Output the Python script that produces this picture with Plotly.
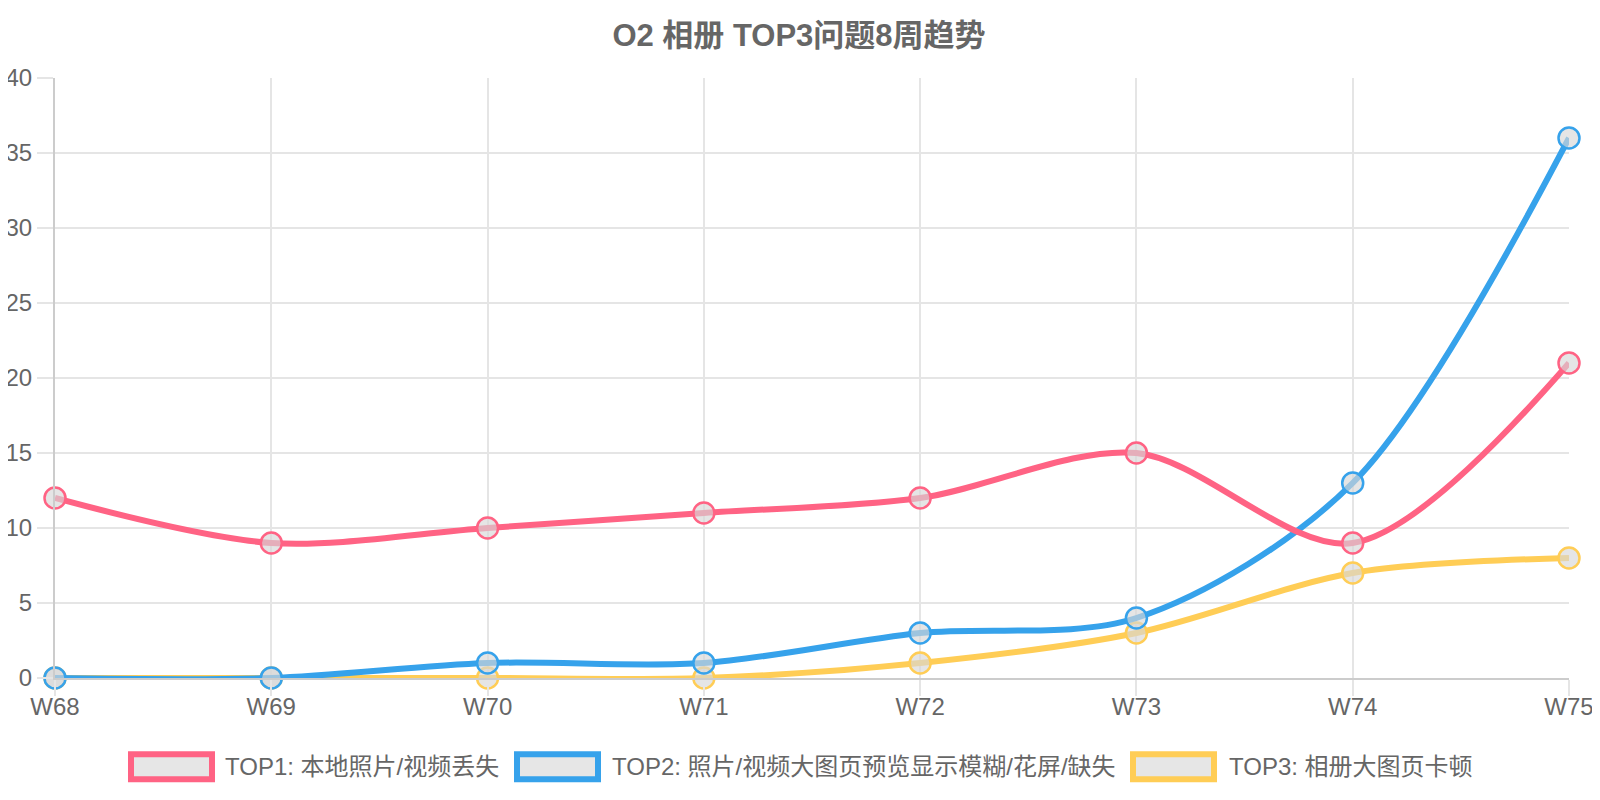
import plotly.graph_objects as go

# chart data
weeks = ["W68", "W69", "W70", "W71", "W72", "W73", "W74", "W75"]
series_names = [
    "TOP1: 本地照片/视频丢失",
    "TOP2: 照片/视频大图页预览显示模糊/花屏/缺失",
    "TOP3: 相册大图页卡顿",
]
top1 = [12, 9, 10, 11, 12, 15, 9, 21]
top2 = [0, 0, 1, 1, 3, 4, 13, 36]
top3 = [0, 0, 0, 0, 1, 3, 7, 8]

colors = ["rgb(255,99,132)", "rgb(54,162,235)", "rgb(255,205,86)"]
values = [top1, top2, top3]

FONT = "Liberation Sans, Arial, Noto Sans CJK SC, sans-serif"
TEXT = "#666666"

# the page body has an 8px margin, so work in page pixels and shift
OFF = 8
W, H = 1600 - OFF, 800 - 2 * OFF
# plot area in page pixels
L, R, T, B = 55, 1569, 77.5, 678.5


def px(x):
    return (x - L) / (R - L)


def py(y):
    return (B - y) / (B - T)


fig = go.Figure()

# draw in reverse so TOP1 ends up on top
for name, vals, col in reversed(list(zip(series_names, values, colors))):
    fig.add_trace(go.Scatter(
        x=weeks, y=vals, name=name, mode="lines+markers",
        line=dict(color=col, width=6, shape="spline", smoothing=0.9),
        marker=dict(size=21, color="rgba(215,215,215,0.65)",
                    line=dict(color=col, width=2.5)),
        showlegend=False, cliponaxis=False,
    ))

# legend drawn by hand (Chart.js style boxes)
box_left = [128, 514, 1130]
text_left = [223, 610, 1227]
for name, col, bx, tx in zip(series_names, colors, box_left, text_left):
    fig.add_shape(type="rect", xref="paper", yref="paper",
                  x0=px(bx + 3), x1=px(bx + 84), y0=py(755), y1=py(780),
                  line=dict(color=col, width=6), fillcolor="#e6e6e6")
    fig.add_annotation(xref="paper", yref="paper", x=px(tx), y=py(767),
                       text=name, showarrow=False, xanchor="left", yanchor="middle",
                       font=dict(family=FONT, size=24, color=TEXT))

fig.update_layout(
    width=W, height=H,
    margin=dict(l=L - OFF, r=OFF + W - R, t=T - OFF, b=800 - OFF - B, pad=0),
    paper_bgcolor="white", plot_bgcolor="white",
    font=dict(family=FONT, color=TEXT),
    title=dict(text="<b>O2 相册 TOP3问题8周趋势</b>", x=(799 - OFF) / W, xanchor="center",
               y=1 - (35 - OFF) / H, yanchor="middle", yref="container",
               font=dict(family=FONT, size=31, color=TEXT)),
)

fig.update_xaxes(
    type="category", range=[0, 7], automargin=False,
    showgrid=True, gridcolor="#e5e5e5", gridwidth=1.5,
    ticks="outside", ticklen=16, tickcolor="#e5e5e5", tickwidth=1.5,
    ticklabelstandoff=-10,
    showline=True, linecolor="#cccccc", linewidth=2,
    tickfont=dict(family=FONT, size=24, color=TEXT), zeroline=False,
)
fig.update_yaxes(
    range=[0, 40], dtick=5, automargin=False,
    showgrid=True, gridcolor="#e5e5e5", gridwidth=1.5,
    ticks="outside", ticklen=16, tickcolor="#e5e5e5", tickwidth=1.5,
    showline=True, linecolor="#cccccc", linewidth=2,
    tickfont=dict(family=FONT, size=24, color=TEXT), zeroline=False,
)

fig.write_html("out.html")
